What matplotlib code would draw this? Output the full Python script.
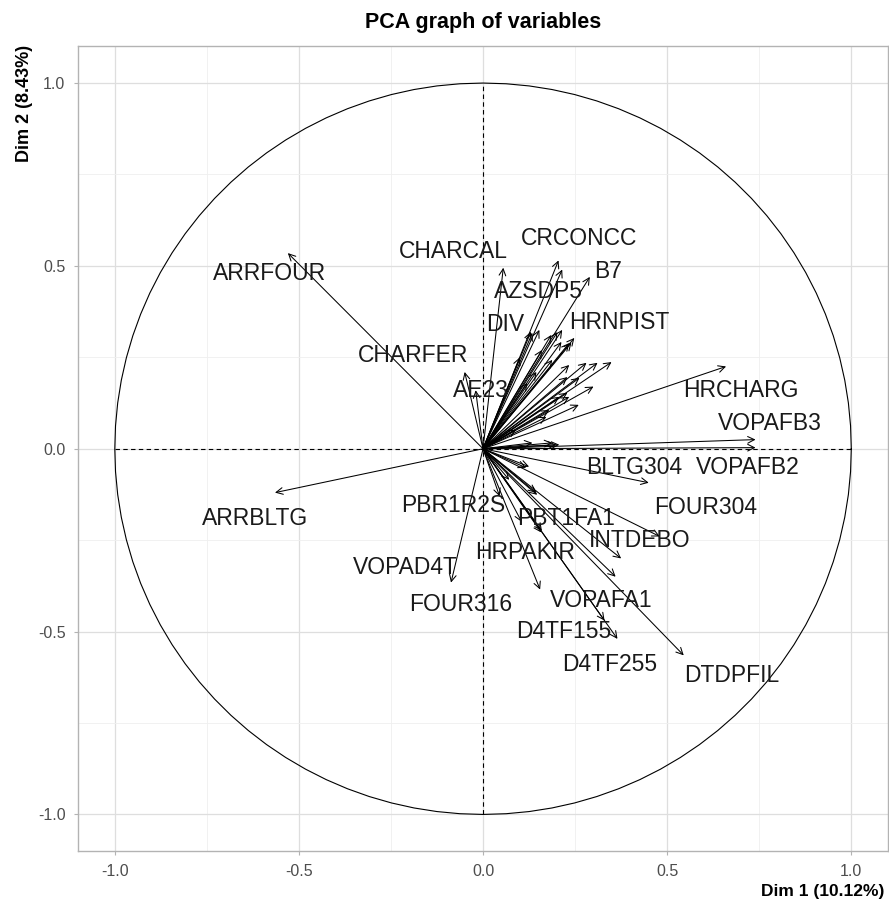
import numpy as np
import matplotlib
matplotlib.use("Agg")
import matplotlib.pyplot as plt

plt.rcParams['font.family'] = ['Liberation Sans', 'DejaVu Sans']

# Labeled variables (Dim1, Dim2 coordinates)
lab_names = ["ARRFOUR", "ARRBLTG", "CHARCAL", "CRCONCC", "AZSDP5", "B7", "DIV",
             "HRNPIST", "CHARFER", "AE23", "HRCHARG", "VOPAFB3", "VOPAFB2",
             "BLTG304", "FOUR304", "INTDEBO", "PBT1FA1", "HRPAKIR", "VOPAFA1",
             "D4TF155", "D4TF255", "DTDPFIL", "FOUR316", "VOPAD4T", "PBR1R2S"]
lab_x = [-0.53, -0.565, 0.055, 0.205, 0.215, 0.29, 0.13, 0.24, -0.05, -0.02, 0.66,
         0.74, 0.74, 0.45, 0.48, 0.375, 0.16, 0.105, 0.36, 0.365, 0.33, 0.545,
         0.155, -0.087, 0.045]
lab_y = [0.535, -0.12, 0.495, 0.515, 0.49, 0.47, 0.32, 0.29, 0.21, 0.16, 0.225,
         0.025, 0.003, -0.093, -0.24, -0.30, -0.225, -0.20, -0.35, -0.52, -0.47,
         -0.565, -0.385, -0.366, -0.13]
# label text centres
txt_x = [-0.58, -0.62, -0.08, 0.26, 0.15, 0.34, 0.06, 0.37, -0.19, -0.005, 0.70,
         0.78, 0.72, 0.41, 0.605, 0.425, 0.225, 0.115, 0.32, 0.22, 0.345, 0.675,
         -0.06, -0.21, -0.08]
txt_y = [0.48, -0.19, 0.54, 0.575, 0.43, 0.485, 0.34, 0.345, 0.255, 0.16, 0.16,
         0.07, -0.05, -0.05, -0.16, -0.25, -0.19, -0.285, -0.415, -0.5, -0.59,
         -0.62, -0.425, -0.325, -0.155]

# Unlabeled variables
un_x = [0.134, 0.202, 0.234, 0.213, 0.188, 0.234, 0.281, 0.311, 0.349, 0.229,
        0.262, 0.229, 0.207, 0.234, 0.180, 0.172, 0.090, 0.199, 0.153, 0.185,
        0.215, 0.248, 0.134, 0.188, 0.125, 0.071, 0.144, 0.158, 0.147, 0.117,
        0.207, 0.145, 0.10, 0.12, 0.16, 0.26, 0.30]
un_y = [0.317, 0.319, 0.289, 0.292, 0.243, 0.229, 0.235, 0.235, 0.237, 0.196,
        0.194, 0.153, 0.142, 0.142, 0.106, 0.087, 0.052, 0.011, 0.325, 0.311,
        0.325, 0.303, 0.016, 0.016, -0.049, -0.085, -0.12, -0.229, -0.126, -0.052,
        0.011, 0.21, 0.25, 0.18, 0.27, 0.12, 0.17]

fig = plt.figure(figsize=(8.89, 9.06), dpi=100)
ax = fig.add_axes([0.0877, 0.0607, 0.9113, 0.888])
ax.set_xlim(-1.1, 1.1)
ax.set_ylim(-1.1, 1.1)

major = [-1.0, -0.5, 0.0, 0.5, 1.0]
minor = [-0.75, -0.25, 0.25, 0.75]
ax.set_xticks(major)
ax.set_yticks(major)
ax.set_xticks(minor, minor=True)
ax.set_yticks(minor, minor=True)
ax.set_xticklabels(["-1.0", "-0.5", "0.0", "0.5", "1.0"])
ax.set_yticklabels(["-1.0", "-0.5", "0.0", "0.5", "1.0"])
ax.grid(True, which='major', color='#dedede', lw=0.9)
ax.grid(True, which='minor', color='#efefef', lw=0.6)
ax.set_axisbelow(True)
ax.tick_params(which='major', colors='#b3b3b3', length=3, labelcolor='#4d4d4d',
               labelsize=11.5, pad=6)
ax.tick_params(which='minor', length=0)
for s in ax.spines.values():
    s.set_color('#b3b3b3')
    s.set_linewidth(1.0)

# circle
t = np.linspace(0, 2 * np.pi, 101)
ax.plot(np.cos(t), np.sin(t), color='black', lw=0.8)
ax.plot([-1, 1], [0, 0], color='black', lw=0.8, ls=(0, (4, 3)))
ax.plot([0, 0], [-1, 1], color='black', lw=0.8, ls=(0, (4, 3)))

def arrow(x, y):
    ax.annotate("", xy=(x, y), xytext=(0, 0),
                arrowprops=dict(arrowstyle='->', color='black', lw=0.75,
                                shrinkA=0, shrinkB=0, mutation_scale=12))

for x, y in zip(un_x, un_y):
    arrow(x, y)
for x, y in zip(lab_x, lab_y):
    arrow(x, y)
for n, tx, ty in zip(lab_names, txt_x, txt_y):
    ax.text(tx, ty, n, ha='center', va='center', fontsize=16.5, color='#1a1a1a')

ax.set_title("PCA graph of variables", fontsize=15.5, fontweight='bold', pad=13)
fig.text(0.995, 0.008, "Dim 1 (10.12%)", ha='right', va='bottom', fontsize=12.5, fontweight='bold')
fig.text(0.027, 0.951, "Dim 2 (8.43%)", ha='center', va='top', rotation=90, fontsize=13, fontweight='bold')

fig.savefig("out.png", dpi=100)
